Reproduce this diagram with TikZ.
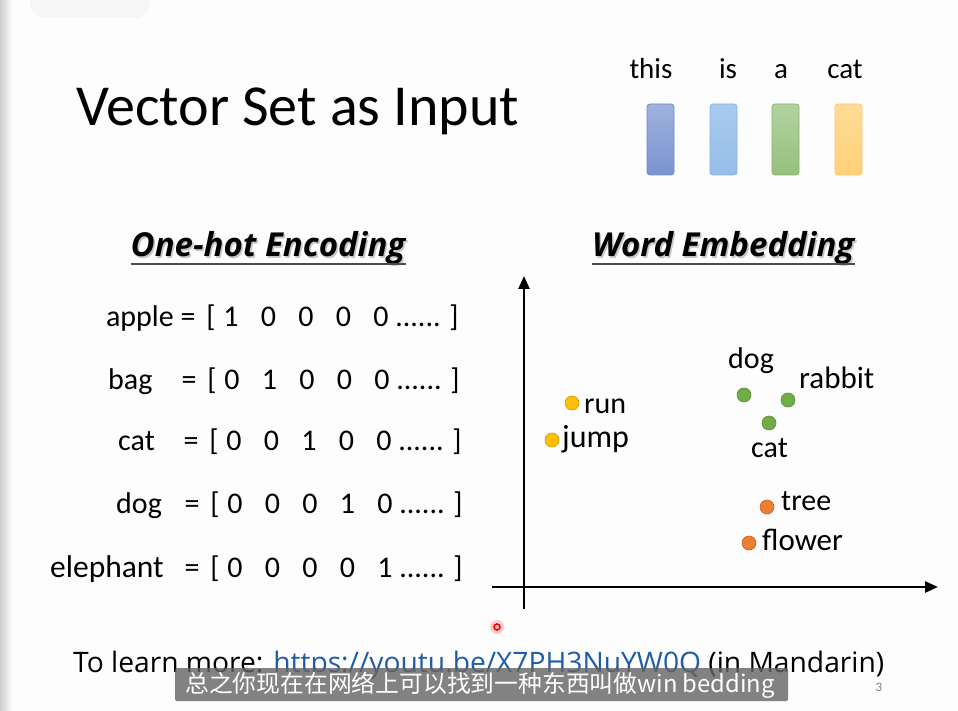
\documentclass[tikz,border=0pt]{standalone}
\usepackage{fontspec}
\setmainfont{Carlito}
\newfontfamily\cjk{Noto Sans CJK SC}
\newfontfamily\osans{Open Sans}
\usetikzlibrary{arrows.meta}
\definecolor{bgc}{HTML}{FDFDFD}
\definecolor{linkblue}{HTML}{1F5CA8}
\definecolor{dotyel}{HTML}{FFC000}
\definecolor{dotgrn}{HTML}{70AD47}
\definecolor{dotorg}{HTML}{ED7D31}
\definecolor{b1t}{RGB}{160,178,222}\definecolor{b1b}{RGB}{122,147,208}\definecolor{b1d}{RGB}{111,138,200}
\definecolor{b2t}{RGB}{170,203,238}\definecolor{b2b}{RGB}{150,190,232}\definecolor{b2d}{RGB}{135,178,225}
\definecolor{b3t}{RGB}{178,210,160}\definecolor{b3b}{RGB}{150,192,125}\definecolor{b3d}{RGB}{135,180,110}
\definecolor{b4t}{RGB}{255,220,150}\definecolor{b4b}{RGB}{255,208,120}\definecolor{b4d}{RGB}{255,198,95}
\definecolor{subbg}{RGB}{100,100,100}
\tikzset{
  txt/.style={inner sep=0pt, font=\fontsize{30}{34}\selectfont},
  wordtxt/.style={inner sep=0pt, anchor=base, font=\fontsize{29}{33}\selectfont},
  head/.style={inner sep=0pt, anchor=base west, font=\osans\fontsize{33}{38}\selectfont\bfseries\itshape},
  headshadow/.style={head, text=gray!45},
  bar/.style={rounded corners=3pt, line width=0.8pt},
  dot/.style={circle, inner sep=0pt, minimum size=14pt, line width=0.6pt},
  axis/.style={line width=2.6pt, -{Triangle[length=13pt,width=11pt]}},
  tok/.style={txt, anchor=base},
}
\begin{document}
\begin{tikzpicture}[x=1pt,y=-1pt]
\useasboundingbox (0,0) rectangle (958,711);
\fill[bgc] (0,0) rectangle (958,711);
\shade[left color=gray!40, right color=bgc] (0,0) rectangle (12,711);
\fill[gray!7, rounded corners=16pt] (30,-30) rectangle (150,18);

% title
\node[inner sep=0pt, anchor=base west, font=\fontsize{58}{64}\selectfont] (title) at (76,126) {Vector Set as Input};

% words and bars
\node[wordtxt] (w1) at (651,79) {this};
\node[wordtxt] (w2) at (728,79) {is};
\node[wordtxt] (w3) at (781,79) {a};
\node[wordtxt] (w4) at (845,79) {cat};
\foreach \i/\x in {1/647, 2/710, 3/772, 4/835}{
  \shade[bar, top color=b\i t, bottom color=b\i b] (\x,104) rectangle (\x+27,175);
  \draw[bar, draw=b\i d] (\x,104) rectangle (\x+27,175);
}

% headings
\node[headshadow] at (132,258.5) {One-hot Encoding};
\node[head] (h1) at (130.5,257) {One-hot Encoding};
\draw[line width=1.4pt, gray!60!black] (h1.west |- 0,264) -- (h1.east |- 0,264);
\node[headshadow] at (593.5,258.5) {Word Embedding};
\node[head] (h2) at (592,257) {Word Embedding};
\draw[line width=1.4pt, gray!60!black] (h2.west |- 0,264) -- (h2.east |- 0,264);

% one-hot rows
\node[txt, anchor=base east] (l1) at (174,326) {apple};
\node[txt, anchor=base west] (l2) at (108,389) {bag};
\node[txt, anchor=base west] (l3) at (118,450) {cat};
\node[txt, anchor=base west] (l4) at (116,513) {dog};
\node[txt, anchor=base west, font=\fontsize{31.5}{34}\selectfont] (l5) at (50,577) {elephant};
\foreach \r/\y/\dx/\a/\b/\c/\d/\e in {1/326/0/1/0/0/0/0, 2/389/1/0/1/0/0/0, 3/450/3/0/0/1/0/0, 4/513/4/0/0/0/1/0, 5/577/4/0/0/0/0/1}{
  \node[tok] (eq\r) at (188+\dx,\y) {=};
  \node[tok] (lb\r) at (211+\dx,\y) {[};
  \node[tok] (da\r) at (231+\dx,\y) {\a};
  \node[tok] (db\r) at (268.5+\dx,\y) {\b};
  \node[tok] (dc\r) at (306+\dx,\y) {\c};
  \node[tok] (dd\r) at (343.5+\dx,\y) {\d};
  \node[tok] (de\r) at (381+\dx,\y) {\e};
  \node[tok] (dt\r) at (418+\dx,\y) {......};
  \node[tok] (rb\r) at (454+\dx,\y) {]};
}

% embedding plot
\coordinate (yb) at (524,609);
\coordinate (yt) at (524,276);
\coordinate (xl) at (492,587);
\coordinate (xr) at (938,587);
\draw[axis] (yb) -- (yt);
\draw[axis] (xl) -- (xr);

\node[dot, fill=dotyel, draw=dotyel!80!black] (prun) at (572,403) {};
\node[dot, fill=dotyel, draw=dotyel!80!black] (pjump) at (552,440) {};
\node[dot, fill=dotgrn, draw=dotgrn!80!black] (pdog) at (744,395) {};
\node[dot, fill=dotgrn, draw=dotgrn!80!black] (prabbit) at (788,400) {};
\node[dot, fill=dotgrn, draw=dotgrn!80!black] (pcat) at (769,423) {};
\node[dot, fill=dotorg, draw=dotorg!80!black] (ptree) at (767,507) {};
\node[dot, fill=dotorg, draw=dotorg!80!black] (pflower) at (749,543) {};

\node[txt, anchor=base west] (trun) at (584,413) {run};
\node[txt, anchor=base west, font=\fontsize{32}{34}\selectfont] (tjump) at (562,447) {jump};
\node[txt, anchor=base west] (tdog) at (728,368) {dog};
\node[txt, anchor=base west, font=\fontsize{31}{34}\selectfont] (trabbit) at (799,388) {rabbit};
\node[txt, anchor=base west] (tcat) at (751,457) {cat};
\node[txt, anchor=base west] (ttree) at (781,510) {tree};
\node[txt, anchor=base west, font=\fontsize{31}{34}\selectfont] (tflower) at (762,550) {flower};

% cursor
\fill[red!40, opacity=0.5] (497,627) circle (7);
\draw[red, line width=1.6pt] (497,627) circle (3);

% link line
\node[inner sep=0pt, anchor=base west, font=\osans\fontsize{28.2}{32}\selectfont] (link) at (73,672) {To learn more: \textcolor{linkblue}{https://youtu.be/X7PH3NuYW0Q} (in Mandarin)};

% subtitle overlay
\fill[subbg, opacity=0.8, rounded corners=1.5pt] (175,668) rectangle (788,701);
\node[inner sep=0pt, anchor=base west, text=white, font=\cjk\fontsize{23.8}{26}\selectfont] (sub) at (185,692) {总之你现在在网络上可以找到一种东西叫做win bedding};

% page number
\node[inner sep=0pt, anchor=base, text=gray, font=\fontsize{13}{15}\selectfont] (pg) at (879,691) {3};
\end{tikzpicture}
\end{document}
